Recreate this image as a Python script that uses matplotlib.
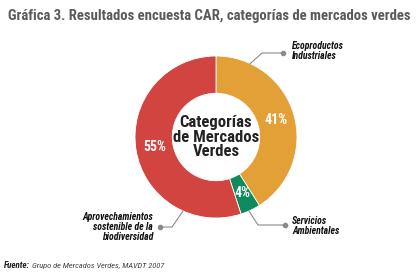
import numpy as np
import matplotlib.pyplot as plt
from matplotlib import font_manager

categorias = ["Ecoproductos\nIndustriales", "Servicios\nAmbientales",
              "Aprovechamientos\nsostenible de la\nbiodiversidad"]
valores = [41, 4, 55]
colores = ["#E3A037", "#0F8A5C", "#D2443F"]

# fuente estrecha si existe
instaladas = {f.name for f in font_manager.fontManager.ttflist}
estrecha = next((f for f in ["Liberation Sans Narrow", "Roboto Condensed",
                             "Open Sans Condensed", "Lato"] if f in instaladas),
                "DejaVu Sans")
plt.rcParams['font.family'] = [estrecha, "DejaVu Sans"]

fig = plt.figure(figsize=(4.2, 2.79), dpi=100)
ax = fig.add_axes([0, 0, 1, 1])

cx, cy, r = 216, 142, 81
wedges, textos, autotextos = ax.pie(
    valores, colors=colores, startangle=90, counterclock=False,
    center=(cx, cy), radius=r, frame=True,
    wedgeprops=dict(width=r * 0.46, edgecolor="white", linewidth=0.6),
    autopct=lambda p: f"{p:.0f}%", pctdistance=0.77,
    textprops=dict(color="white", fontsize=10, fontweight="bold"))
ax.set_xlim(0, 420)
ax.set_ylim(0, 279)
ax.set_aspect("equal")
ax.axis("off")

# texto central
ax.text(cx, cy, "Categorías\nde Mercados\nVerdes", ha="center", va="center",
        fontsize=12, fontweight="bold", color="#222222", linespacing=1.0)

# etiquetas con líneas guía: (ángulo en el anillo, codo, punto, texto, alineación)
gris = "#8a8a8a"
guias = [
    (65, (262, 226), (283, 226), (292, 228), "left"),
    (-66, (258, 54), (285, 54), (292, 53), "left"),
    (-114, (172, 52), (160, 52), (153, 52), "right"),
]
for cat, (ang, codo, punto, pos, ha) in zip(categorias, guias):
    x0 = cx + r * np.cos(np.deg2rad(ang))
    y0 = cy + r * np.sin(np.deg2rad(ang))
    ax.plot([x0, codo[0], punto[0]], [y0, codo[1], punto[1]], color=gris, lw=0.8)
    ax.plot(*punto, "o", color=gris, ms=3)
    ax.text(pos[0], pos[1], cat, ha=ha, va="center", fontsize=7,
            fontweight="bold", fontstyle="italic", color="#111111",
            linespacing=1.0)

fig.text(0.018, 0.943, "Gráfica 3. Resultados encuesta CAR, categorías de mercados verdes",
         fontsize=10.6, fontweight="bold", color="#5a5a5a", va="center")
fuente = fig.text(0.01, 0.04, "Fuente:", fontsize=6.5, fontweight="bold",
                  fontstyle="italic", color="#222222", va="baseline")
fig.canvas.draw()
x_fin = fuente.get_window_extent().x1 / fig.bbox.width
fig.text(x_fin + 0.004, 0.04, "Grupo de Mercados Verdes, MAVDT 2007", fontsize=6,
         fontstyle="italic", color="#444444", va="baseline")

fig.savefig("out.png", dpi=100)
